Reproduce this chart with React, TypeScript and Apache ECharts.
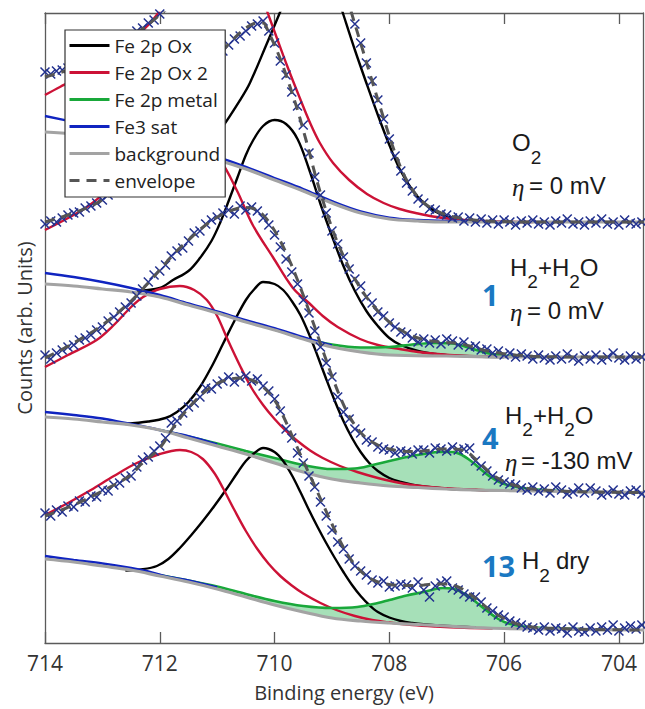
import React, { useEffect, useRef } from 'react';
import * as echarts from 'echarts';

type Pt = [number, number];

// ---------- axis ----------
const xTicks = [714, 712, 710, 708, 706, 704];
const energyHigh = 714;
const energyLow = 703.58;
const countsMax = 630;

// ---------- measured data (0.1 eV steps) ----------
const dataEnergy = [
  714.0, 713.9, 713.8, 713.7, 713.6, 713.5, 713.4, 713.3, 713.2, 713.1,
  713.0, 712.9, 712.8, 712.7, 712.6, 712.5, 712.4, 712.3, 712.2, 712.1,
  712.0, 711.9, 711.8, 711.7, 711.6, 711.5, 711.4, 711.3, 711.2, 711.1,
  711.0, 710.9, 710.8, 710.7, 710.6, 710.5, 710.4, 710.3, 710.2, 710.1,
  710.0, 709.9, 709.8, 709.7, 709.6, 709.5, 709.4, 709.3, 709.2, 709.1,
  709.0, 708.9, 708.8, 708.7, 708.6, 708.5, 708.4, 708.3, 708.2, 708.1,
  708.0, 707.9, 707.8, 707.7, 707.6, 707.5, 707.4, 707.3, 707.2, 707.1,
  707.0, 706.9, 706.8, 706.7, 706.6, 706.5, 706.4, 706.3, 706.2, 706.1,
  706.0, 705.9, 705.8, 705.7, 705.6, 705.5, 705.4, 705.3, 705.2, 705.1,
  705.0, 704.9, 704.8, 704.7, 704.6, 704.5, 704.4, 704.3, 704.2, 704.1,
  704.0, 703.9, 703.8, 703.7, 703.6,
];

// O2, eta = 0 mV
const s1Counts = [
  571, 569, 572, 573, 575, 576, 580, 581, 585, 587,
  591, 592, 597, 600, 604, 607, 612, 615, 620, 623,
  629, 633, 638, 642, 649, 655, 661, 666, 673, 680,
  686, 693, 700, 708, 715, 722, 730, 740, 750, 760,
  768, 775, 780, 783, 785, 784, 780, 772, 760, 742,
  720, 692, 655, 638, 619, 600, 580, 562, 543, 524,
  504, 487, 472, 460, 452, 444, 440, 434, 433, 429,
  428, 425, 426, 422, 425, 421, 424, 420, 423, 419,
  423, 421, 418, 422, 420, 423, 419, 421, 418, 422,
  420, 424, 419, 421, 418, 422, 420, 424, 419, 421,
  418, 423, 420, 419, 421,
];
// H2+H2O, eta = 0 mV (1)
const s2Counts = [
  419, 422, 421, 425, 428, 430, 431, 435, 437, 440,
  443, 448, 452, 455, 461, 465, 470, 475, 481, 486,
  492, 498, 505, 512, 520, 529, 539, 549, 562, 574,
  585, 592, 598, 604, 607, 612, 617, 619, 622, 612,
  600, 582, 568, 551, 537, 518, 490, 466, 448, 430,
  412, 399, 386, 374, 364, 357, 346, 340, 331, 327,
  320, 316, 311, 309, 305, 301, 304, 300, 303, 299,
  304, 302, 298, 301, 296, 297, 293, 294, 290, 292,
  288, 290, 286, 289, 287, 284, 288, 285, 283, 287,
  284, 289, 285, 282, 287, 284, 288, 283, 286, 290,
  285, 283, 287, 284, 286,
];
// H2+H2O, eta = -130 mV (4)
const s3Counts = [
  288, 284, 290, 293, 296, 298, 303, 305, 308, 313,
  316, 322, 326, 331, 336, 340, 347, 354, 361, 368,
  372, 378, 387, 392, 395, 402, 410, 412, 419, 423,
  426, 430, 433, 429, 437, 433, 436, 432, 425, 418,
  408, 396, 384, 371, 359, 343, 330, 312, 296, 280,
  266, 246, 231, 224, 214, 210, 203, 201, 196, 194,
  193, 190, 192, 191, 189, 193, 193, 190, 195, 194,
  192, 196, 193, 194, 195, 182, 177, 172, 167, 163,
  161, 159, 158, 155, 153, 156, 152, 154, 150, 156,
  153, 149, 151, 155, 150, 155, 152, 148, 150, 153,
  149, 148, 152, 153, 149,
];
// H2 dry (13)
const s4Counts = [
  130, 127, 133, 131, 137, 136, 142, 141, 147, 146,
  153, 152, 158, 160, 165, 167, 176, 183, 186, 192,
  197, 205, 220, 222, 230, 236, 240, 246, 255, 254,
  259, 262, 266, 261, 265, 267, 262, 264, 257, 252,
  244, 232, 214, 205, 190, 180, 167, 156, 141, 127,
  113, 101, 94, 84, 77, 72, 68, 63, 60, 62,
  56, 57, 59, 58, 55, 61, 53, 46, 57, 60,
  62, 55, 53, 49, 46, 46, 41, 35, 32, 28,
  26, 22, 20, 18, 16, 15, 13, 16, 12, 15,
  14, 10, 16, 12, 11, 15, 12, 16, 13, 18,
  12, 15, 17, 14, 18,
];

// ---------- fitted curves [energy, counts] ----------
const s1Background: Pt[] = [[714, 511], [713.5, 509], [713, 505], [712.5, 501], [712, 496], [711.5, 490], [711, 483], [710.5, 474], [710, 463], [709.5, 452], [709, 440], [708.5, 430], [708, 424], [707.5, 422], [707, 421], [703.56, 421]];
const s1Sat: Pt[] = [[714, 527], [713.5, 521], [713, 514.5], [712.5, 508], [712, 501], [711.5, 494], [711, 486], [710.5, 476], [710, 465], [709.5, 454], [709, 441.8], [708.5, 431.6], [708, 425.4], [707.5, 423], [707, 422], [706.5, 421.8]];
const s1Ox2: Pt[] = [[714, 548], [713.74, 556], [713.5, 563], [713, 580], [712.5, 602], [712.2, 618], [712, 632], [711.7, 655], [711.4, 676], [711.2, 690], [711, 700], [710.8, 698], [710.6, 688], [710.4, 668], [710.25, 650], [710.1, 627], [709.96, 605], [709.78, 577], [709.56, 545], [709.38, 520], [709.21, 500], [708.98, 480], [708.7, 463], [708.39, 449], [708.1, 440], [707.82, 434], [707.5, 429.5], [707.24, 426.5], [706.9, 424], [706.5, 422.3], [706, 421.3], [705.5, 421]];
const s1Ox: Pt[] = [[711.8, 495], [711.4, 496], [711.1, 503], [710.92, 515], [710.6, 543], [710.43, 560], [710.13, 600], [709.91, 630], [709.7, 660], [709.5, 685], [709.35, 700], [709.1, 680], [708.95, 655], [708.81, 630], [708.6, 593], [708.4, 560], [708.2, 528], [708, 498], [707.82, 474], [707.6, 453], [707.4, 440], [707.2, 431.5], [707, 426.5], [706.7, 422.8], [706.4, 421.4], [706, 421]];
const s1Envelope: Pt[] = [[714, 566], [713.5, 575], [713, 589], [712.5, 606], [712, 628], [711.5, 655], [711, 686], [710.5, 722], [710, 768], [709.6, 785], [709.2, 760], [709, 705], [708.85, 668], [708.7, 638], [708.5, 600], [708.3, 562], [708.1, 525], [707.9, 490], [707.7, 463], [707.5, 446], [707.3, 436], [707.1, 430], [706.9, 426.5], [706.6, 423.5], [706.3, 422], [705.9, 421.2], [705.5, 421], [703.56, 421]];

const s2Background: Pt[] = [[714, 359], [713.5, 357], [713, 354], [712.5, 351], [712, 346], [711.5, 338], [711, 330], [710.5, 321], [710, 313], [709.5, 304], [709, 296], [708.5, 291], [708, 288], [707, 287], [706, 286], [703.56, 286]];
const s2Sat: Pt[] = [[714, 370], [713.5, 366], [713, 361], [712.5, 355], [712, 348], [711.5, 339.5], [711, 331.5], [710.5, 322.8], [710, 314.8], [709.5, 305.8], [709, 297.5]];
const s2Ox2: Pt[] = [[714, 413], [713.5, 428], [713.22, 438], [712.8, 458], [712.4, 478], [712, 494], [711.6, 503], [711.25, 498], [710.95, 483], [710.66, 453], [710.38, 418], [710.03, 386], [709.68, 355], [709.4, 340], [709.16, 327], [708.9, 316], [708.51, 304], [708.2, 298], [707.82, 294], [707.5, 291], [707.24, 289.5], [706.8, 287.5], [706.3, 286.5], [705.8, 286]];
const s2Ox: Pt[] = [[712.4, 352], [712, 355], [711.77, 363], [711.5, 372], [711.3, 385], [711.1, 402], [710.95, 420], [710.8, 442], [710.65, 465], [710.5, 488], [710.38, 502], [710.2, 517], [710, 523], [709.8, 519], [709.6, 504], [709.4, 474], [709.2, 439], [709, 407], [708.8, 377], [708.6, 352], [708.4, 332], [708.2, 317], [708, 305], [707.8, 298], [707.5, 292], [707.2, 289], [706.9, 287.5], [706.5, 286.5], [706, 286]];
const s2Metal: Pt[] = [[710.5, 321.5], [710, 313.5], [709.5, 305], [709, 298.5], [708.5, 295.5], [708, 296], [707.6, 298.5], [707.2, 300], [706.9, 299.5], [706.6, 295], [706.3, 290], [706, 287.5], [705.7, 286.5], [705.3, 286]];
const s2Envelope: Pt[] = [[714, 421], [713.5, 430], [713, 443], [712.5, 465], [712, 492], [711.6, 520], [711.3, 550], [711.1, 573], [710.9, 592], [710.7, 605], [710.5, 615], [710.3, 620], [710.2, 620], [710.1, 610], [710, 598], [709.9, 584], [709.8, 568], [709.7, 551], [709.6, 533], [709.5, 513], [709.4, 492], [709.3, 470], [709.2, 450], [709.1, 432], [709, 415], [708.9, 400], [708.8, 387], [708.7, 375], [708.6, 364], [708.4, 346], [708.2, 332], [708, 321], [707.8, 313], [707.6, 307], [707.4, 303.5], [707.2, 301.5], [707, 300.5], [706.8, 299.5], [706.6, 297], [706.4, 293.5], [706.2, 291], [706, 289.3], [705.8, 288], [705.5, 286.8], [705.1, 286.2], [704.5, 286], [703.56, 286]];

const s3Background: Pt[] = [[714, 226], [713.5, 224], [713, 221], [712.5, 218], [712, 213], [711.5, 205], [711, 197], [710.5, 189], [710, 180], [709.5, 171], [709, 164], [708.5, 160], [708, 157], [707.5, 155.5], [707, 154], [706.5, 153], [706, 152.5], [705, 151.5], [703.56, 150.5]];
const s3Sat: Pt[] = [[714, 231], [713.5, 228], [713, 224.5], [712.64, 220.5], [712.2, 215.5], [711.8, 210.5], [711.5, 206.8], [711, 198.6]];
const s3Ox2: Pt[] = [[714, 276], [713.6, 288], [713.1, 303], [712.8, 318], [712.5, 336], [712.29, 346], [712, 354], [711.65, 357], [711.4, 353], [711.18, 343], [711, 327], [710.83, 305], [710.6, 277], [710.4, 255], [710.2, 238], [710, 224], [709.8, 212], [709.6, 202], [709.38, 192.5], [709.16, 185], [708.86, 177], [708.56, 171], [708.2, 165], [707.9, 161], [707.6, 158], [707.2, 155.5], [706.8, 154], [706.4, 153], [706, 152.5]];
const s3Ox: Pt[] = [[712.6, 219], [712.2, 221.5], [711.9, 225], [711.7, 231], [711.5, 241], [711.3, 256], [711.1, 276], [710.9, 299], [710.7, 322], [710.5, 343], [710.35, 354], [710.2, 361], [710, 359], [709.85, 353], [709.7, 342], [709.55, 328], [709.4, 309], [709.25, 287], [709.1, 264], [708.95, 242], [708.8, 222], [708.65, 205], [708.5, 191], [708.35, 180], [708.2, 172], [708, 165], [707.8, 161], [707.6, 158.3], [707.4, 156.5], [707, 154.3], [706.6, 153.2], [706.2, 152.5]];
const s3Metal: Pt[] = [[712, 213], [711.5, 206.5], [711, 199.5], [710.5, 192], [710, 185], [709.5, 178], [709, 174], [708.6, 174.5], [708.29, 178], [708, 182], [707.69, 186], [707.4, 189], [707.12, 191], [706.9, 191], [706.72, 187.5], [706.6, 183], [706.47, 177], [706.35, 171], [706.25, 166.5], [706.1, 161.5], [705.95, 158.3], [705.67, 155], [705.32, 153], [705, 152], [704.5, 151.2]];
const s3Envelope: Pt[] = [[714, 285], [713.5, 300], [713, 318], [712.5, 342], [712.17, 362], [711.77, 388], [711.5, 403], [711.2, 418], [710.9, 429], [710.65, 434.5], [710.5, 435.5], [710.35, 434], [710.2, 428], [710.05, 417], [709.9, 402], [709.75, 384], [709.6, 363], [709.45, 340], [709.3, 316], [709.15, 291], [709, 267], [708.85, 245], [708.7, 227], [708.55, 214], [708.4, 205], [708.2, 198], [708, 194], [707.7, 191.5], [707.4, 192], [707.12, 194], [706.85, 194], [706.65, 191], [706.5, 184], [706.35, 176], [706.2, 168], [706, 161.5], [705.78, 157], [705.5, 154], [705, 152], [704.5, 151], [703.56, 150.5]];

const s4Background: Pt[] = [[714, 84], [713.5, 81], [713, 77], [712.5, 73], [712, 67], [711.5, 61], [711, 54], [710.5, 46], [710, 38], [709.5, 31], [709, 25], [708.5, 22], [708, 20], [707.5, 18.5], [707, 17], [706.5, 15.5], [706, 14.5], [705, 13.8], [703.56, 13]];
const s4Sat: Pt[] = [[714, 87], [713.5, 83], [713, 79.5], [712.5, 75], [712.2, 71.5], [711.9, 66.8], [711.5, 62.6], [711, 55.6]];
const s4Ox2: Pt[] = [[714, 128], [713.6, 140], [713.2, 153], [712.8, 167], [712.4, 180], [712, 189], [711.65, 193], [711.45, 191], [711.25, 184], [711.05, 170], [710.9, 155], [710.7, 133], [710.5, 112], [710.3, 94], [710.1, 79], [709.9, 67], [709.7, 57.5], [709.5, 49.5], [709.2, 40], [708.9, 32.5], [708.6, 27], [708.3, 23], [708, 20.5], [707.6, 18], [707.2, 16.5], [706.7, 15.2], [706.2, 14.5]];
const s4Ox: Pt[] = [[712.6, 72.5], [712.3, 73.8], [712.05, 77], [711.85, 84], [711.65, 95], [711.45, 108], [711.25, 122], [711.05, 137], [710.85, 153], [710.65, 170], [710.5, 182], [710.35, 190], [710.2, 195], [710, 191], [709.85, 182], [709.7, 168], [709.55, 151], [709.4, 133], [709.25, 116], [709.1, 100], [708.95, 85], [708.8, 71], [708.65, 58], [708.5, 47], [708.35, 38], [708.2, 31], [708, 25.5], [707.8, 22], [707.6, 20], [707.4, 18.7], [707, 17], [706.5, 15.5]];
const s4Metal: Pt[] = [[712.2, 70], [711.5, 62.5], [711, 56.5], [710.5, 49], [710, 42], [709.5, 37], [709, 35], [708.56, 36], [708.2, 40], [708, 43], [707.7, 47.5], [707.41, 51], [707.2, 54], [707.07, 55], [706.9, 54.5], [706.75, 51], [706.6, 46], [706.45, 39], [706.25, 30], [706.1, 24], [705.95, 20], [705.67, 16.5], [705.3, 15], [705, 14.5], [704.5, 13.5]];
const s4Envelope: Pt[] = [[714, 127], [713.5, 138], [713, 152], [712.5, 168], [712.34, 178], [712, 195], [711.77, 215], [711.5, 235], [711.18, 253], [710.9, 262], [710.6, 265], [710.4, 263], [710.2, 256], [710, 243], [709.85, 227], [709.7, 208], [709.5, 182], [709.3, 157], [709.15, 138], [709, 119], [708.85, 101], [708.7, 86], [708.55, 75], [708.4, 67], [708.2, 61], [708, 58.5], [707.7, 57.5], [707.4, 58], [707.2, 59], [707, 59], [706.8, 56], [706.6, 49], [706.4, 40], [706.25, 33], [706, 24.5], [705.8, 19.5], [705.5, 16], [705, 14.5], [704.5, 13.5], [703.56, 13]];

const legendNames = ['Fe 2p Ox', 'Fe 2p Ox 2', 'Fe 2p metal', 'Fe3 sat', 'background', 'envelope'];

// ---------- styles ----------
const C_OX = '#000000';
const C_OX2 = '#cc1236';
const C_METAL = '#19a83a';
const C_SAT = '#1024c0';
const C_BG = '#a3a3a3';
const C_ENV = '#555555';
const C_DATA = '#22318f';
const C_FILL = '#a6e0b8';
const C_NUM = '#1a78c2';
const C_TEXT = '#1a1a1a';
const C_AXIS = '#5a5a5a';
const F_SANS = "'Open Sans', 'Noto Sans', sans-serif";
const F_ARIAL = "'Liberation Sans', Arial, sans-serif";
const F_SERIF = "'Liberation Serif', 'DejaVu Serif', serif";

const spectra = [
  { ox: s1Ox, ox2: s1Ox2, metal: null as Pt[] | null, sat: s1Sat, bg: s1Background, env: s1Envelope, counts: s1Counts },
  { ox: s2Ox, ox2: s2Ox2, metal: s2Metal, sat: s2Sat, bg: s2Background, env: s2Envelope, counts: s2Counts },
  { ox: s3Ox, ox2: s3Ox2, metal: s3Metal, sat: s3Sat, bg: s3Background, env: s3Envelope, counts: s3Counts },
  { ox: s4Ox, ox2: s4Ox2, metal: s4Metal, sat: s4Sat, bg: s4Background, env: s4Envelope, counts: s4Counts },
];

function line(name: string, data: Pt[], color: string, width: number, z: number, dashed = false) {
  return {
    type: 'line',
    name,
    data,
    symbol: 'none',
    smooth: 0.35,
    z,
    silent: true,
    clip: true,
    itemStyle: { color },
    lineStyle: { color, width, type: dashed ? [10, 7] : 'solid', cap: 'butt' },
  };
}

function fill(metal: Pt[], bg: Pt[]) {
  const hi = metal[0][0];
  const lo = metal[metal.length - 1][0];
  const base = bg.filter((p) => p[0] < hi && p[0] > lo).slice().reverse();
  const poly: Pt[] = [...metal, ...base];
  return {
    type: 'custom',
    name: 'metal area',
    silent: true,
    z: 1,
    data: [metal[0]],
    encode: { x: 0, y: 1 },
    renderItem: (_params: any, api: any) => ({
      type: 'polygon',
      shape: { points: poly.map((p) => api.coord(p)), smooth: 0.2 },
      style: { fill: C_FILL, stroke: null },
    }),
  };
}

function buildSeries() {
  const out: any[] = [];
  spectra.forEach((s) => {
    if (s.metal) out.push(fill(s.metal, s.bg));
  });
  spectra.forEach((s) => {
    out.push(line('Fe 2p Ox', s.ox, C_OX, 2.4, 2));
    out.push(line('Fe 2p Ox 2', s.ox2, C_OX2, 2.4, 2));
    if (s.metal) out.push(line('Fe 2p metal', s.metal, C_METAL, 2.6, 2));
  });
  spectra.forEach((s) => {
    out.push(line('Fe3 sat', s.sat, C_SAT, 2.4, 3));
  });
  spectra.forEach((s) => {
    out.push(line('background', s.bg, C_BG, 3.2, 4));
  });
  spectra.forEach((s) => {
    out.push({
      type: 'scatter',
      name: 'data',
      data: dataEnergy.map((e, i) => [e, s.counts[i]]),
      symbol: 'path://M0,0L10,10M10,0L0,10',
      symbolSize: 9,
      z: 5,
      silent: true,
      clip: true,
      itemStyle: { color: 'none', borderColor: C_DATA, borderWidth: 1.5, opacity: 1 },
    });
  });
  spectra.forEach((s) => {
    out.push(line('envelope', s.env, C_ENV, 3, 6, true));
  });
  return out;
}

function txt(text: string, x: number, y: number, size: number, opts: any = {}) {
  return {
    type: 'text',
    x,
    y,
    z: 30,
    silent: true,
    style: {
      text,
      fontSize: size,
      fontFamily: opts.family || F_ARIAL,
      fontWeight: opts.weight || 'normal',
      fontStyle: opts.style || 'normal',
      fill: opts.color || C_TEXT,
      align: 'left',
      verticalAlign: 'middle',
    },
  };
}

function buildGraphic() {
  const M = 24; // main size
  const S = 19; // subscript size
  const wH = 17.3, wSub = 10.6, wPlus = 14, wO = 18.7;
  const h2h2o = (x: number, y: number) => [
    txt('H', x, y, M),
    txt('2', x + wH, y + 14, S),
    txt('+', x + wH + wSub, y, M),
    txt('H', x + wH + wSub + wPlus, y, M),
    txt('2', x + 2 * wH + wSub + wPlus, y + 14, S),
    txt('O', x + 2 * wH + 2 * wSub + wPlus, y, M),
  ];
  const eta = (x: number, y: number, rest: string, gap: number) => [
    txt('η', x, y + 2, 25, { family: F_SERIF, style: 'italic' }),
    txt(rest, x + gap, y, M),
  ];
  const num = (t: string, x: number, y: number) => txt(t, x, y, 29, { family: F_SANS, weight: 'bold', color: C_NUM });
  return [
    txt('O', 512, 142, M),
    txt('2', 512 + wO, 157, S),
    ...eta(512, 185, '= 0 mV', 17),
    ...h2h2o(510, 267.5),
    num('1', 482, 294),
    ...eta(510, 310, '= 0 mV', 17),
    ...h2h2o(505, 415),
    num('4', 482, 437),
    ...eta(505, 460, '= -130 mV', 16),
    num('13', 482, 565),
    txt('H', 522, 560, M),
    txt('2', 522 + wH, 575, S),
    txt('dry', 556, 560, M),
  ];
}

function buildOption() {
  const tickStyle = { color: C_AXIS, width: 1.3 };
  return {
    animation: false,
    backgroundColor: '#ffffff',
    grid: { left: 45, right: 2, top: 13, bottom: 66, show: false },
    legend: {
      data: legendNames,
      orient: 'vertical',
      left: 65,
      top: 30,
      z: 20,
      itemWidth: 40,
      itemHeight: 14,
      itemGap: 8,
      padding: [6, 5, 7, 3],
      backgroundColor: '#ffffff',
      borderColor: '#333333',
      borderWidth: 1.2,
      borderRadius: 0,
      selectedMode: false,
      lineStyle: { width: 3 },
      itemStyle: { opacity: 0 },
      textStyle: { fontSize: 19, fontFamily: F_SANS, color: '#222222' },
    },
    xAxis: [
      {
        type: 'value',
        position: 'bottom',
        min: energyLow,
        max: energyHigh,
        inverse: true,
        axisLine: { show: true, onZero: false, lineStyle: tickStyle },
        axisTick: { show: true, inside: true, length: 11, customValues: xTicks, lineStyle: tickStyle },
        axisLabel: {
          show: true,
          customValues: xTicks,
          fontSize: 21,
          fontFamily: F_SANS,
          color: '#333333',
          margin: 9,
        },
        splitLine: { show: false },
        name: 'Binding energy (eV)',
        nameLocation: 'middle',
        nameGap: 39,
        nameTextStyle: { fontSize: 20, fontFamily: F_SANS, color: '#333333' },
      },
      {
        type: 'value',
        position: 'top',
        min: energyLow,
        max: energyHigh,
        inverse: true,
        axisLine: { show: true, onZero: false, lineStyle: tickStyle },
        axisTick: { show: true, inside: true, length: 11, customValues: xTicks, lineStyle: tickStyle },
        axisLabel: { show: false },
        splitLine: { show: false },
      },
    ],
    yAxis: [
      {
        type: 'value',
        position: 'left',
        min: 0,
        max: countsMax,
        axisLine: { show: true, onZero: false, lineStyle: tickStyle },
        axisTick: { show: false },
        axisLabel: { show: false },
        splitLine: { show: false },
        name: 'Counts (arb. Units)',
        nameLocation: 'middle',
        nameGap: 11,
        nameTextStyle: { fontSize: 20, fontFamily: F_SANS, color: '#333333' },
      },
      {
        type: 'value',
        position: 'right',
        min: 0,
        max: countsMax,
        axisLine: { show: true, onZero: false, lineStyle: tickStyle },
        axisTick: { show: false },
        axisLabel: { show: false },
        splitLine: { show: false },
      },
    ],
    series: buildSeries(),
    graphic: buildGraphic(),
  };
}

export default function App() {
  const ref = useRef<HTMLDivElement>(null);
  useEffect(() => {
    document.body.style.margin = '0';
    if (!ref.current) return;
    const chart = echarts.init(ref.current, null, { renderer: 'svg' });
    chart.setOption(buildOption() as any);
    return () => chart.dispose();
  }, []);
  return <div ref={ref} style={{ width: 645, height: 709 }} />;
}
